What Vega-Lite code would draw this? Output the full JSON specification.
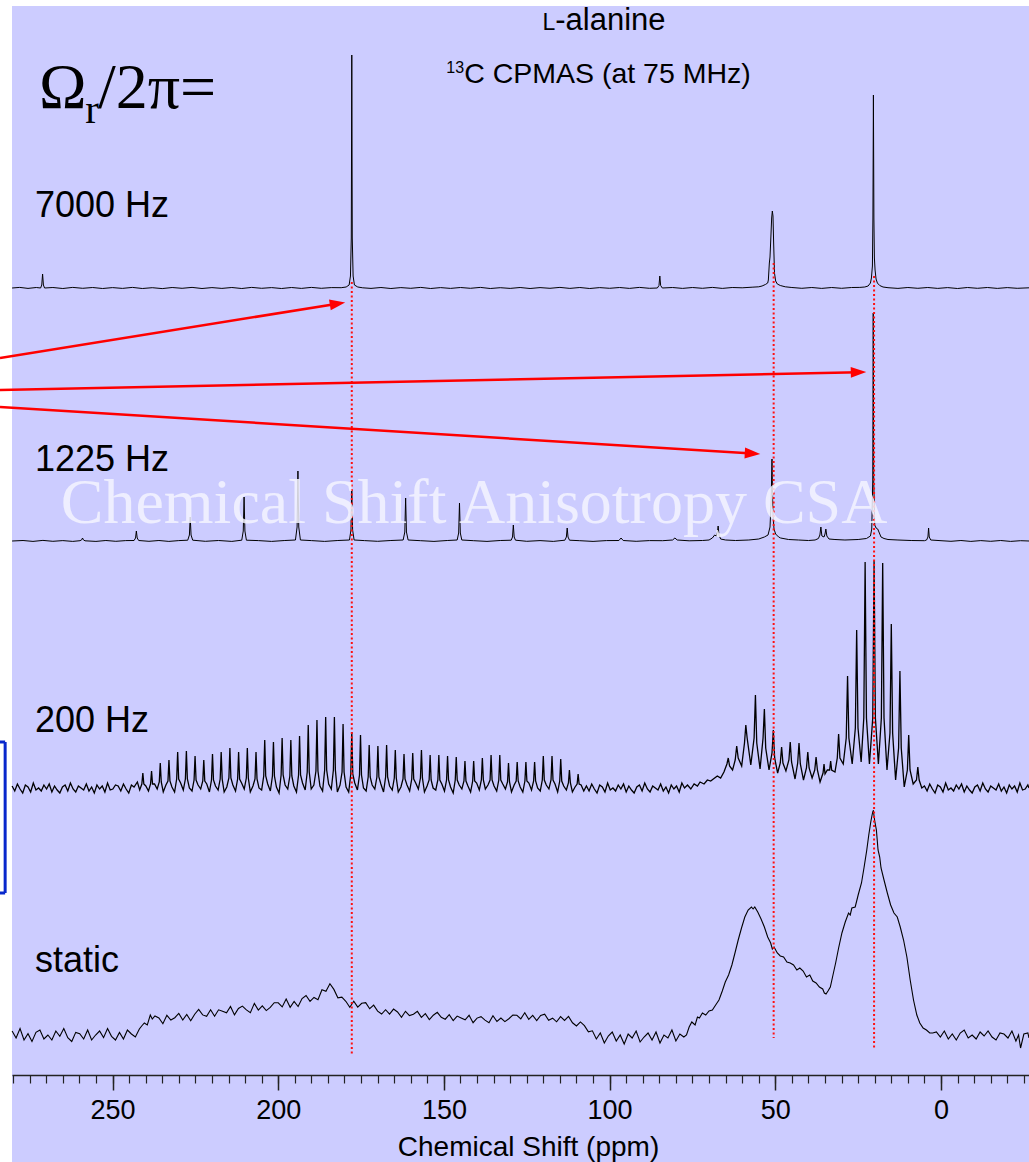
{
"$schema": "https://vega.github.io/schema/vega-lite/v6.json",
"width": 1017,
"height": 1156,
"autosize": {"type": "none"},
"padding": {"left": 12, "top": 6, "right": 0, "bottom": 0},
"background": "white",
"config": {"view": {"fill": "#CCCCFF", "stroke": null}},
"datasets": {
"s7000": [{"p":280.3,"v":0},{"p":278.0,"v":0.6},{"p":275.5,"v":-0.4},{"p":273.0,"v":0.5},{"p":271.7,"v":0},{"p":271.35,"v":3},{"p":271.1,"v":14},{"p":270.85,"v":3},{"p":270.5,"v":0},{"p":268.0,"v":0.5},{"p":265.0,"v":-0.5},{"p":262.0,"v":0.6},{"p":259.0,"v":-0.3},{"p":256.0,"v":0.5},{"p":253.0,"v":-0.5},{"p":250.0,"v":0.4},{"p":247.0,"v":-0.4},{"p":244.0,"v":0.6},{"p":241.0,"v":-0.5},{"p":238.0,"v":0.3},{"p":235.0,"v":-0.6},{"p":232.0,"v":0.5},{"p":229.0,"v":-0.3},{"p":226.0,"v":0.6},{"p":223.0,"v":-0.5},{"p":220.0,"v":0.4},{"p":217.0,"v":-0.4},{"p":214.0,"v":0.5},{"p":211.0,"v":-0.5},{"p":208.0,"v":0.6},{"p":205.0,"v":-0.3},{"p":202.0,"v":0.4},{"p":199.0,"v":-0.5},{"p":196.0,"v":0.5},{"p":193.0,"v":-0.4},{"p":190.0,"v":0.6},{"p":187.0,"v":-0.3},{"p":184.0,"v":0.4},{"p":181.0,"v":0.3},{"p":179.5,"v":1},{"p":178.6,"v":3},{"p":178.2,"v":12},{"p":177.95,"v":50},{"p":177.8,"v":233},{"p":177.65,"v":50},{"p":177.4,"v":12},{"p":177.0,"v":3},{"p":176.0,"v":1},{"p":174.5,"v":0.2},{"p":172.0,"v":-0.4},{"p":169.0,"v":0.5},{"p":166.0,"v":-0.5},{"p":163.0,"v":0.4},{"p":160.0,"v":-0.3},{"p":157.0,"v":0.6},{"p":154.0,"v":-0.5},{"p":151.0,"v":0.4},{"p":148.0,"v":-0.4},{"p":145.0,"v":0.5},{"p":142.0,"v":-0.3},{"p":139.0,"v":0.6},{"p":136.0,"v":-0.5},{"p":133.0,"v":0.3},{"p":130.0,"v":-0.4},{"p":127.0,"v":0.5},{"p":124.0,"v":-0.5},{"p":121.0,"v":0.4},{"p":118.0,"v":-0.3},{"p":115.0,"v":0.6},{"p":112.0,"v":-0.4},{"p":109.0,"v":0.5},{"p":106.0,"v":-0.5},{"p":103.0,"v":0.4},{"p":100.0,"v":-0.3},{"p":97.0,"v":0.5},{"p":94.0,"v":-0.4},{"p":91.0,"v":0.6},{"p":88.0,"v":-0.3},{"p":85.6,"v":0},{"p":85.1,"v":2.5},{"p":84.85,"v":12},{"p":84.6,"v":2.5},{"p":84.1,"v":0},{"p":81.0,"v":0.5},{"p":78.0,"v":-0.4},{"p":75.0,"v":0.5},{"p":72.0,"v":-0.3},{"p":69.0,"v":0.6},{"p":66.0,"v":-0.4},{"p":63.0,"v":0.5},{"p":60.0,"v":0.2},{"p":57.0,"v":0.8},{"p":55.0,"v":1.2},{"p":54.0,"v":2},{"p":53.0,"v":3.5},{"p":52.3,"v":5},{"p":52.1,"v":8},{"p":51.8,"v":25},{"p":51.6,"v":31},{"p":51.35,"v":50},{"p":51.1,"v":70},{"p":50.9,"v":77},{"p":50.7,"v":72},{"p":50.5,"v":45},{"p":50.25,"v":15},{"p":49.9,"v":7},{"p":49.4,"v":4},{"p":48.5,"v":2.5},{"p":47.0,"v":1.2},{"p":45.0,"v":0.5},{"p":42.0,"v":-0.3},{"p":39.0,"v":0.5},{"p":36.0,"v":-0.4},{"p":33.0,"v":0.5},{"p":30.0,"v":-0.3},{"p":27.0,"v":0.5},{"p":24.5,"v":0.6},{"p":23.0,"v":1},{"p":22.0,"v":2},{"p":21.3,"v":5},{"p":21.0,"v":10},{"p":20.7,"v":22},{"p":20.55,"v":70},{"p":20.4,"v":193},{"p":20.25,"v":70},{"p":20.1,"v":30},{"p":19.9,"v":18},{"p":19.6,"v":9},{"p":19.2,"v":5},{"p":18.5,"v":2.5},{"p":17.5,"v":1},{"p":16.0,"v":0.3},{"p":13.0,"v":-0.4},{"p":10.0,"v":0.5},{"p":7.0,"v":-0.3},{"p":4.0,"v":0.5},{"p":1.0,"v":-0.4},{"p":-2.0,"v":0.4},{"p":-5.0,"v":-0.5},{"p":-8.0,"v":0.5},{"p":-11.0,"v":-0.3},{"p":-14.0,"v":0.5},{"p":-17.0,"v":-0.4},{"p":-20.0,"v":0.4},{"p":-23.0,"v":-0.3},{"p":-26.55,"v":0.2}],
"s1225": [{"p":280.3,"v":0},{"p":277,"v":0.5},{"p":274,"v":-0.4},{"p":271,"v":0.6},{"p":268,"v":-0.3},{"p":265,"v":0.4},{"p":262,"v":-0.4},{"p":259.8,"v":0.3},{"p":259.3,"v":1.2},{"p":259.05,"v":3},{"p":258.8,"v":1.2},{"p":258.3,"v":0.2},{"p":255,"v":-0.4},{"p":252,"v":0.5},{"p":249,"v":-0.3},{"p":246,"v":0.4},{"p":243.5,"v":0.5},{"p":243.05,"v":3},{"p":242.8,"v":10},{"p":242.55,"v":3},{"p":242.1,"v":0.5},{"p":239,"v":-0.3},{"p":236,"v":0.5},{"p":233,"v":-0.4},{"p":230,"v":0.4},{"p":227.3,"v":0.8},{"p":226.8,"v":6},{"p":226.55,"v":24},{"p":226.3,"v":6},{"p":225.8,"v":0.8},{"p":222,"v":-0.3},{"p":218,"v":0.5},{"p":214,"v":-0.4},{"p":211,"v":0.8},{"p":210.55,"v":10},{"p":210.3,"v":44},{"p":210.05,"v":10},{"p":209.6,"v":0.8},{"p":206,"v":0.4},{"p":202,"v":-0.4},{"p":198,"v":0.5},{"p":194.8,"v":1},{"p":194.3,"v":14},{"p":194.05,"v":70},{"p":193.8,"v":14},{"p":193.3,"v":1},{"p":190,"v":0.4},{"p":186,"v":-0.4},{"p":182,"v":0.5},{"p":178.5,"v":1},{"p":178.05,"v":11},{"p":177.8,"v":51},{"p":177.55,"v":11},{"p":177.1,"v":1},{"p":174,"v":0.4},{"p":170,"v":-0.3},{"p":166,"v":0.5},{"p":162.3,"v":1},{"p":161.8,"v":9},{"p":161.55,"v":43},{"p":161.3,"v":9},{"p":160.8,"v":1},{"p":157,"v":0.3},{"p":153,"v":-0.4},{"p":149,"v":0.5},{"p":146,"v":1},{"p":145.55,"v":8},{"p":145.3,"v":38},{"p":145.05,"v":8},{"p":144.6,"v":1},{"p":141,"v":0.3},{"p":137,"v":-0.4},{"p":133,"v":0.5},{"p":129.7,"v":0.8},{"p":129.3,"v":4},{"p":129.05,"v":16},{"p":128.8,"v":4},{"p":128.4,"v":0.8},{"p":125,"v":-0.3},{"p":121,"v":0.4},{"p":117,"v":-0.4},{"p":113.5,"v":0.8},{"p":113.05,"v":4},{"p":112.8,"v":13},{"p":112.55,"v":4},{"p":112.1,"v":0.8},{"p":109,"v":0.3},{"p":105,"v":-0.4},{"p":101,"v":0.4},{"p":97.2,"v":0.5},{"p":96.55,"v":3},{"p":95.9,"v":0.5},{"p":92,"v":-0.3},{"p":88,"v":0.4},{"p":84,"v":0.3},{"p":81,"v":1},{"p":80.3,"v":3},{"p":79.6,"v":1},{"p":76,"v":0.2},{"p":72,"v":0.5},{"p":70,"v":1},{"p":69,"v":3},{"p":68.3,"v":6},{"p":67.8,"v":5},{"p":67.45,"v":9},{"p":67.25,"v":15},{"p":67.0,"v":6},{"p":66.5,"v":2},{"p":65,"v":1},{"p":62,"v":0.5},{"p":58,"v":1},{"p":55,"v":2},{"p":53.3,"v":4},{"p":52.2,"v":6},{"p":51.6,"v":14},{"p":51.25,"v":40},{"p":51.0,"v":82},{"p":50.75,"v":30},{"p":50.4,"v":12},{"p":49.9,"v":7},{"p":49.0,"v":4},{"p":48.4,"v":3},{"p":46,"v":1.5},{"p":43,"v":1},{"p":40,"v":0.5},{"p":38,"v":1},{"p":37,"v":2.5},{"p":36.55,"v":6},{"p":36.25,"v":14},{"p":35.95,"v":5},{"p":35.3,"v":4},{"p":35.0,"v":7},{"p":34.75,"v":12},{"p":34.45,"v":5},{"p":33.8,"v":2},{"p":32,"v":1.5},{"p":29,"v":1},{"p":25,"v":1.5},{"p":22.5,"v":2.5},{"p":21.3,"v":5},{"p":20.9,"v":12},{"p":20.6,"v":60},{"p":20.45,"v":228},{"p":20.3,"v":60},{"p":20.0,"v":16},{"p":19.6,"v":13},{"p":19.1,"v":12},{"p":18.1,"v":4},{"p":17.2,"v":2.5},{"p":16,"v":1.5},{"p":13,"v":1},{"p":9,"v":0.5},{"p":5,"v":0.3},{"p":4.35,"v":1},{"p":3.95,"v":4},{"p":3.75,"v":13},{"p":3.55,"v":4},{"p":3.1,"v":1},{"p":0,"v":0.3},{"p":-3,"v":-0.3},{"p":-6,"v":0.5},{"p":-9,"v":-0.4},{"p":-12,"v":0.4},{"p":-15,"v":-0.3},{"p":-18,"v":0.5},{"p":-21,"v":-0.4},{"p":-24,"v":0.3},{"p":-26.55,"v":0}],
"s200": [{"p":280.3,"v":2},{"p":279.5,"v":-3},{"p":278.7,"v":4},{"p":277.9,"v":-1},{"p":277.1,"v":-5},{"p":276.3,"v":3},{"p":275.5,"v":1},{"p":274.7,"v":-4},{"p":273.9,"v":5},{"p":273.1,"v":-2},{"p":272.3,"v":0},{"p":271.5,"v":-3},{"p":270.7,"v":3},{"p":269.9,"v":-1},{"p":269.1,"v":4},{"p":268.3,"v":-4},{"p":267.5,"v":2},{"p":266.7,"v":-2},{"p":265.9,"v":-5},{"p":265.1,"v":1},{"p":264.3,"v":3},{"p":263.5,"v":-3},{"p":262.7,"v":5},{"p":261.9,"v":-1},{"p":261.1,"v":-4},{"p":260.3,"v":2},{"p":259.5,"v":0},{"p":258.7,"v":-2},{"p":257.9,"v":4},{"p":257.1,"v":-3},{"p":256.3,"v":1},{"p":255.5,"v":-5},{"p":254.7,"v":3},{"p":253.9,"v":-1},{"p":253.1,"v":2},{"p":252.3,"v":-4},{"p":251.5,"v":5},{"p":250.7,"v":-2},{"p":249.9,"v":-1},{"p":249.1,"v":3},{"p":248.3,"v":2},{"p":247.5,"v":-3},{"p":246.7,"v":4},{"p":245.9,"v":-1},{"p":245.1,"v":-5},{"p":244.3,"v":3},{"p":243.5,"v":1},{"p":242.5,"v":6},{"p":241.8,"v":-2},
{"p":241.15,"v":4},{"p":240.85,"v":15},{"p":240.55,"v":4},{"p":239.95,"v":2},{"p":239.15,"v":-3},
{"p":238.52,"v":4},{"p":238.22,"v":17},{"p":237.92,"v":4},{"p":237.32,"v":4},{"p":236.52,"v":-1},
{"p":235.89,"v":6},{"p":235.59,"v":25},{"p":235.29,"v":6},{"p":234.69,"v":-4},{"p":233.89,"v":3},
{"p":233.27,"v":7},{"p":232.97,"v":28},{"p":232.67,"v":7},{"p":232.07,"v":1},{"p":231.27,"v":-4},
{"p":230.64,"v":9},{"p":230.34,"v":36},{"p":230.04,"v":9},{"p":229.44,"v":5},{"p":228.64,"v":-2},
{"p":228.01,"v":9},{"p":227.71,"v":37},{"p":227.41,"v":9},{"p":226.81,"v":0},{"p":226.01,"v":-3},
{"p":225.39,"v":8},{"p":225.09,"v":32},{"p":224.79,"v":8},{"p":224.19,"v":3},{"p":223.39,"v":-1},
{"p":222.76,"v":7},{"p":222.46,"v":28},{"p":222.16,"v":7},{"p":221.56,"v":4},{"p":220.76,"v":-4},
{"p":220.13,"v":8},{"p":219.83,"v":34},{"p":219.53,"v":8},{"p":218.93,"v":2},{"p":218.13,"v":-2},
{"p":217.51,"v":9},{"p":217.21,"v":36},{"p":216.91,"v":9},{"p":216.31,"v":-4},{"p":215.51,"v":1},
{"p":214.88,"v":10},{"p":214.58,"v":40},{"p":214.28,"v":10},{"p":213.68,"v":3},{"p":212.88,"v":-3},
{"p":212.25,"v":9},{"p":211.95,"v":36},{"p":211.65,"v":9},{"p":211.05,"v":5},{"p":210.25,"v":-1},
{"p":209.62,"v":10},{"p":209.32,"v":40},{"p":209.02,"v":10},{"p":208.42,"v":-4},{"p":207.62,"v":2},
{"p":207.0,"v":9},{"p":206.7,"v":36},{"p":206.4,"v":9},{"p":205.8,"v":0},{"p":205.0,"v":-2},
{"p":204.37,"v":12},{"p":204.07,"v":48},{"p":203.77,"v":12},{"p":203.17,"v":4},{"p":202.37,"v":-3},
{"p":201.74,"v":12},{"p":201.44,"v":46},{"p":201.14,"v":12},{"p":200.54,"v":1},{"p":199.74,"v":-5},
{"p":199.12,"v":13},{"p":198.82,"v":50},{"p":198.52,"v":13},{"p":197.92,"v":3},{"p":197.12,"v":-1},
{"p":196.49,"v":12},{"p":196.19,"v":48},{"p":195.89,"v":12},{"p":195.29,"v":2},{"p":194.49,"v":-4},
{"p":193.86,"v":13},{"p":193.56,"v":52},{"p":193.26,"v":13},{"p":192.66,"v":5},{"p":191.86,"v":-2},
{"p":191.24,"v":16},{"p":190.94,"v":63},{"p":190.64,"v":16},{"p":190.04,"v":-1},{"p":189.24,"v":3},
{"p":188.61,"v":17},{"p":188.31,"v":68},{"p":188.01,"v":17},{"p":187.41,"v":2},{"p":186.61,"v":-3},
{"p":185.98,"v":18},{"p":185.68,"v":71},{"p":185.38,"v":18},{"p":184.78,"v":4},{"p":183.98,"v":-1},
{"p":183.35,"v":18},{"p":183.05,"v":71},{"p":182.75,"v":18},{"p":182.15,"v":-4},{"p":181.35,"v":3},
{"p":180.73,"v":16},{"p":180.43,"v":64},{"p":180.13,"v":16},{"p":179.53,"v":1},{"p":178.73,"v":-4},
{"p":178.1,"v":14},{"p":177.8,"v":56},{"p":177.5,"v":14},{"p":176.9,"v":5},{"p":176.1,"v":-2},
{"p":175.47,"v":13},{"p":175.17,"v":53},{"p":174.87,"v":13},{"p":174.27,"v":0},{"p":173.47,"v":-3},
{"p":172.85,"v":11},{"p":172.55,"v":43},{"p":172.25,"v":11},{"p":171.65,"v":3},{"p":170.85,"v":-1},
{"p":170.22,"v":11},{"p":169.92,"v":42},{"p":169.62,"v":11},{"p":169.02,"v":4},{"p":168.22,"v":-4},
{"p":167.59,"v":11},{"p":167.29,"v":43},{"p":166.99,"v":11},{"p":166.39,"v":2},{"p":165.59,"v":-2},
{"p":164.97,"v":10},{"p":164.67,"v":38},{"p":164.37,"v":10},{"p":163.77,"v":-4},{"p":162.97,"v":1},
{"p":162.34,"v":9},{"p":162.04,"v":34},{"p":161.74,"v":9},{"p":161.14,"v":3},{"p":160.34,"v":-3},
{"p":159.71,"v":9},{"p":159.41,"v":35},{"p":159.11,"v":9},{"p":158.51,"v":5},{"p":157.71,"v":-1},
{"p":157.08,"v":10},{"p":156.78,"v":38},{"p":156.48,"v":10},{"p":155.88,"v":-4},{"p":155.08,"v":2},
{"p":154.46,"v":8},{"p":154.16,"v":33},{"p":153.86,"v":8},{"p":153.26,"v":0},{"p":152.46,"v":-2},
{"p":151.83,"v":8},{"p":151.53,"v":33},{"p":151.23,"v":8},{"p":150.63,"v":4},{"p":149.83,"v":-3},
{"p":149.2,"v":8},{"p":148.9,"v":32},{"p":148.6,"v":8},{"p":148.0,"v":1},{"p":147.2,"v":-5},
{"p":146.58,"v":8},{"p":146.28,"v":31},{"p":145.98,"v":8},{"p":145.38,"v":3},{"p":144.58,"v":-1},
{"p":143.95,"v":7},{"p":143.65,"v":27},{"p":143.35,"v":7},{"p":142.75,"v":2},{"p":141.95,"v":-4},
{"p":141.32,"v":7},{"p":141.02,"v":27},{"p":140.72,"v":7},{"p":140.12,"v":5},{"p":139.32,"v":-2},
{"p":138.7,"v":8},{"p":138.4,"v":30},{"p":138.1,"v":8},{"p":137.5,"v":-1},{"p":136.7,"v":3},
{"p":136.07,"v":8},{"p":135.77,"v":33},{"p":135.47,"v":8},{"p":134.87,"v":2},{"p":134.07,"v":-3},
{"p":133.44,"v":8},{"p":133.14,"v":33},{"p":132.84,"v":8},{"p":132.24,"v":4},{"p":131.44,"v":-1},
{"p":130.81,"v":6},{"p":130.51,"v":25},{"p":130.21,"v":6},{"p":129.61,"v":-4},{"p":128.81,"v":3},
{"p":128.19,"v":7},{"p":127.89,"v":26},{"p":127.59,"v":7},{"p":126.99,"v":1},{"p":126.19,"v":-4},
{"p":125.56,"v":7},{"p":125.26,"v":26},{"p":124.96,"v":7},{"p":124.36,"v":5},{"p":123.56,"v":-2},
{"p":122.93,"v":7},{"p":122.63,"v":26},{"p":122.33,"v":7},{"p":121.73,"v":0},{"p":120.93,"v":-3},
{"p":120.31,"v":8},{"p":120.01,"v":32},{"p":119.71,"v":8},{"p":119.11,"v":3},{"p":118.31,"v":-1},
{"p":117.68,"v":8},{"p":117.38,"v":32},{"p":117.08,"v":8},{"p":116.48,"v":4},{"p":115.68,"v":-4},
{"p":115.05,"v":7},{"p":114.75,"v":29},{"p":114.45,"v":7},{"p":113.85,"v":2},{"p":113.05,"v":-2},
{"p":112.43,"v":5},{"p":112.13,"v":18},{"p":111.83,"v":5},{"p":111.23,"v":-4},{"p":110.43,"v":1},
{"p":109.8,"v":4},{"p":109.5,"v":14},{"p":109.2,"v":4},{"p":108.6,"v":3},{"p":107.8,"v":-3},
{"p":107.0,"v":2},{"p":106.2,"v":-3},{"p":105.4,"v":4},{"p":104.6,"v":-1},{"p":103.8,"v":-5},{"p":103.0,"v":3},{"p":102.2,"v":1},{"p":101.4,"v":-4},{"p":100.6,"v":5},{"p":99.8,"v":-2},{"p":99.0,"v":0},{"p":98.2,"v":-3},{"p":97.4,"v":3},{"p":96.6,"v":-1},{"p":95.8,"v":4},{"p":95.0,"v":-4},{"p":94.2,"v":2},{"p":93.4,"v":-2},{"p":92.6,"v":-5},{"p":91.8,"v":1},{"p":91.0,"v":3},{"p":90.2,"v":-3},{"p":89.4,"v":5},{"p":88.6,"v":-1},{"p":87.8,"v":-4},{"p":87.0,"v":2},{"p":86.2,"v":0},{"p":85.4,"v":-2},{"p":84.6,"v":4},{"p":83.8,"v":-3},{"p":83.0,"v":1},{"p":82.2,"v":-5},{"p":81.4,"v":3},{"p":80.6,"v":-1},{"p":79.8,"v":2},{"p":79.0,"v":-4},{"p":78.2,"v":5},
{"p":77.4,"v":0},{"p":76.5,"v":3},{"p":75.5,"v":-1},{"p":74.5,"v":4},{"p":73.5,"v":2},{"p":72.7,"v":6},{"p":71.5,"v":4},{"p":70.5,"v":8},{"p":69.5,"v":7},{"p":68.7,"v":9},{"p":67.5,"v":12},{"p":66.5,"v":10},{"p":65.5,"v":16},{"p":64.6,"v":24},{"p":64.2,"v":30},{"p":63.8,"v":22},{"p":62.9,"v":18},{"p":62.1,"v":28},{"p":61.65,"v":42},{"p":61.2,"v":30},{"p":60.15,"v":22},{"p":59.3,"v":45},{"p":58.9,"v":63},{"p":58.5,"v":50},{"p":57.4,"v":23},{"p":56.4,"v":50},{"p":56.0,"v":93},{"p":55.6,"v":45},{"p":54.6,"v":19},{"p":53.7,"v":50},{"p":53.3,"v":79},{"p":52.9,"v":40},{"p":51.9,"v":18},{"p":51.0,"v":35},{"p":50.6,"v":58},{"p":50.2,"v":30},{"p":49.3,"v":15},{"p":48.5,"v":25},{"p":48.1,"v":41},{"p":47.7,"v":25},{"p":46.8,"v":17},{"p":45.9,"v":28},{"p":45.5,"v":46},{"p":45.1,"v":26},{"p":44.05,"v":9},{"p":43.25,"v":25},{"p":42.85,"v":45},{"p":42.45,"v":24},{"p":41.5,"v":8},{"p":40.6,"v":20},{"p":40.2,"v":36},{"p":39.8,"v":20},{"p":38.9,"v":10},{"p":38.1,"v":18},{"p":37.7,"v":31},{"p":37.3,"v":18},{"p":36.5,"v":6},{"p":35.6,"v":15},{"p":35.3,"v":24},{"p":35.0,"v":14},{"p":34.3,"v":18},{"p":33.6,"v":18},{"p":33.3,"v":27},{"p":33.0,"v":18},{"p":32.0,"v":16},{"p":31.3,"v":30},{"p":30.9,"v":54},{"p":30.5,"v":30},{"p":29.5,"v":24},{"p":28.6,"v":50},{"p":28.2,"v":112},{"p":27.8,"v":50},{"p":26.8,"v":24},{"p":25.85,"v":60},{"p":25.45,"v":158},{"p":25.05,"v":60},{"p":24.1,"v":26},{"p":23.3,"v":70},{"p":22.9,"v":226},{"p":22.5,"v":70},{"p":21.6,"v":24},{"p":20.6,"v":70},{"p":20.2,"v":227},{"p":19.8,"v":70},{"p":18.9,"v":24},{"p":18.0,"v":70},{"p":17.6,"v":225},{"p":17.2,"v":70},{"p":16.3,"v":18},{"p":15.4,"v":55},{"p":15.0,"v":164},{"p":14.6,"v":55},{"p":13.7,"v":8},{"p":12.8,"v":40},{"p":12.4,"v":117},{"p":12.0,"v":40},{"p":11.1,"v":1},{"p":10.15,"v":18},{"p":9.75,"v":53},{"p":9.35,"v":18},{"p":8.4,"v":4},{"p":7.4,"v":8},{"p":7.0,"v":21},{"p":6.6,"v":8},{"p":5.8,"v":0},
{"p":5.0,"v":2},{"p":4.2,"v":-3},{"p":3.4,"v":4},{"p":2.6,"v":-1},{"p":1.8,"v":-5},{"p":1.0,"v":3},{"p":0.2,"v":1},{"p":-0.6,"v":-4},{"p":-1.4,"v":5},{"p":-2.2,"v":-2},{"p":-3.0,"v":0},{"p":-3.8,"v":-3},{"p":-4.6,"v":3},{"p":-5.4,"v":-1},{"p":-6.2,"v":4},{"p":-7.0,"v":-4},{"p":-7.8,"v":2},{"p":-8.6,"v":-2},{"p":-9.4,"v":-5},{"p":-10.2,"v":1},{"p":-11.0,"v":3},{"p":-11.8,"v":-3},{"p":-12.6,"v":5},{"p":-13.4,"v":-1},{"p":-14.2,"v":-4},{"p":-15.0,"v":2},{"p":-15.8,"v":0},{"p":-16.6,"v":-2},{"p":-17.4,"v":4},{"p":-18.2,"v":-3},{"p":-19.0,"v":1},{"p":-19.8,"v":-5},{"p":-20.6,"v":3},{"p":-21.4,"v":-1},{"p":-22.2,"v":2},{"p":-23.0,"v":-4},{"p":-23.8,"v":5},{"p":-24.6,"v":-2},{"p":-25.4,"v":-1},{"p":-26.2,"v":3},{"p":-26.55,"v":0}],
"sstatic": [{"p":280.3,"v":4},{"p":279.1,"v":-3},{"p":277.9,"v":6.5},{"p":276.7,"v":-5},{"p":275.5,"v":1.3},{"p":274.3,"v":-6.5},{"p":273.1,"v":2.6},{"p":271.9,"v":5},{"p":270.7,"v":-4},{"p":269.5,"v":0},{"p":268.3,"v":-5},{"p":267.1,"v":4},{"p":265.9,"v":-1.3},{"p":264.7,"v":6.5},{"p":263.5,"v":-2.6},{"p":262.3,"v":-6.5},{"p":261.1,"v":2.6},{"p":259.9,"v":1.3},{"p":258.7,"v":-4},{"p":257.5,"v":5},{"p":256.3,"v":-5},{"p":255.1,"v":0},{"p":253.9,"v":4},{"p":252.7,"v":-2.6},{"p":251.5,"v":6.5},{"p":250.3,"v":-1.3},{"p":249.1,"v":-5},{"p":247.9,"v":2.6},{"p":246.7,"v":-4},{"p":245.5,"v":5},
{"p":244.3,"v":1},{"p":243.1,"v":-2},{"p":241.9,"v":6},{"p":241.2,"v":9},{"p":240.4,"v":12},{"p":239.5,"v":10},{"p":238.6,"v":20},{"p":238.0,"v":16},{"p":237.2,"v":19},
{"p":236.0,"v":17},{"p":234.8,"v":11.3},{"p":233.6,"v":19.7},{"p":232.4,"v":15},{"p":231.2,"v":17.3},{"p":230.0,"v":21.6},{"p":228.8,"v":15},{"p":227.6,"v":20.6},{"p":226.4,"v":14.2},{"p":225.2,"v":20.8},{"p":224.0,"v":25.5},{"p":222.8,"v":20.1},{"p":221.6,"v":18.7},{"p":220.4,"v":25.2},{"p":219.2,"v":18.8},{"p":218.0,"v":25.2},{"p":216.8,"v":23.7},{"p":215.6,"v":22.2},{"p":214.4,"v":28.6},{"p":213.2,"v":20.1},{"p":212.0,"v":26.6},{"p":210.8,"v":28.9},{"p":209.6,"v":25.1},{"p":208.4,"v":22.4},{"p":207.2,"v":31.6},{"p":206.0,"v":24.9},{"p":204.8,"v":29.1},{"p":203.6,"v":24.4},{"p":202.4,"v":27.6},{"p":201.2,"v":32.3},{"p":200.0,"v":32.2},{"p":198.8,"v":28.1},{"p":197.6,"v":35.9},{"p":196.4,"v":27.7},{"p":195.2,"v":33.6},{"p":194.0,"v":28.5},{"p":192.8,"v":36.5},{"p":191.6,"v":39.5},{"p":190.4,"v":33.6},{"p":189.2,"v":37.6},{"p":188.0,"v":35.3},{"p":186.8,"v":45.3},{"p":185.6,"v":43.8},{"p":184.4,"v":51.2},{"p":183.2,"v":45.6},
{"p":182.0,"v":37.2},{"p":180.8,"v":37.9},{"p":179.6,"v":33.7},{"p":178.4,"v":27.7},{"p":177.2,"v":33.8},{"p":176.0,"v":27.9},{"p":174.8,"v":31.7},{"p":173.6,"v":32.3},{"p":172.4,"v":26.3},{"p":171.2,"v":29.8},{"p":170.0,"v":23.9},{"p":168.8,"v":21},{"p":167.6,"v":25.3},{"p":166.4,"v":20.8},{"p":165.2,"v":25.9},{"p":164.0,"v":23},{"p":162.8,"v":17.7},{"p":161.6,"v":23.7},{"p":160.4,"v":19.4},{"p":159.2,"v":20.7},{"p":158.0,"v":23.6},{"p":156.8,"v":17.6},{"p":155.6,"v":21.3},{"p":154.4,"v":15.4},{"p":153.2,"v":19.8},{"p":152.0,"v":22.7},{"p":150.8,"v":17.7},{"p":149.6,"v":15.8},{"p":148.4,"v":20.3},{"p":147.2,"v":14.4},{"p":146.0,"v":18.9},{"p":144.8,"v":17},{"p":143.6,"v":15.2},{"p":142.4,"v":19.7},{"p":141.2,"v":12.3},{"p":140.0,"v":16.9},{"p":138.8,"v":18.3},{"p":137.6,"v":14.9},{"p":136.4,"v":12.3},{"p":135.2,"v":19.3},{"p":134.0,"v":13.5},{"p":132.8,"v":16.9},{"p":131.6,"v":13.4},{"p":130.4,"v":16.3},{"p":129.2,"v":20},{"p":128.0,"v":19.7},{"p":126.8,"v":16.2},{"p":125.6,"v":22.3},{"p":124.4,"v":15.6},{"p":123.2,"v":19.6},{"p":122.0,"v":14.4},{"p":120.8,"v":19.6},{"p":119.6,"v":20.8},{"p":118.4,"v":14.8},{"p":117.2,"v":16.8},{"p":116.0,"v":13.2},{"p":114.8,"v":18.4},{"p":113.6,"v":14.6},{"p":112.4,"v":18.6},{"p":111.2,"v":12.2},{"p":110.0,"v":9},{"p":108.8,"v":13.1},{"p":107.6,"v":9.3},{"p":106.4,"v":3.1},{"p":105.2,"v":4.2},
{"p":104.0,"v":-4},{"p":102.8,"v":2},{"p":101.6,"v":-8},{"p":100.4,"v":-1},{"p":99.2,"v":3},{"p":98.0,"v":-6},{"p":96.8,"v":0},{"p":95.6,"v":-9},{"p":94.4,"v":1},{"p":93.2,"v":-3},{"p":92.0,"v":4},{"p":90.8,"v":-7},{"p":89.6,"v":-2},{"p":88.4,"v":2},{"p":87.2,"v":-5},{"p":86.0,"v":3},{"p":84.8,"v":-8},{"p":83.6,"v":0},{"p":82.4,"v":-3},{"p":81.2,"v":5},{"p":80.0,"v":-6},{"p":78.8,"v":1},{"p":77.6,"v":-2},
{"p":76.8,"v":0},{"p":76.0,"v":8},{"p":75.2,"v":13},{"p":74.2,"v":10},{"p":73.5,"v":18},{"p":72.9,"v":17},{"p":72.0,"v":22},{"p":71.0,"v":20},{"p":70.0,"v":24},{"p":69.0,"v":25},{"p":68.0,"v":30},{"p":67.0,"v":35},{"p":66.0,"v":44},{"p":65.1,"v":53},{"p":64.1,"v":60},{"p":63.1,"v":70},{"p":62.1,"v":83},{"p":61.2,"v":95},{"p":60.2,"v":107},{"p":59.2,"v":118},{"p":58.2,"v":125},{"p":57.2,"v":128},{"p":56.7,"v":126},{"p":56.2,"v":128},{"p":55.3,"v":123},{"p":54.3,"v":116},{"p":53.3,"v":108},{"p":52.3,"v":98},{"p":51.4,"v":92},{"p":50.9,"v":86},{"p":50.4,"v":88},{"p":49.4,"v":82},{"p":48.5,"v":79},{"p":47.5,"v":78},{"p":46.5,"v":73},{"p":45.5,"v":72},{"p":44.5,"v":70},{"p":43.5,"v":65},{"p":42.6,"v":67},{"p":41.6,"v":64},{"p":40.6,"v":58},{"p":39.6,"v":60},{"p":38.7,"v":54},{"p":37.7,"v":52},{"p":36.7,"v":48},{"p":35.7,"v":46},{"p":35.2,"v":42},{"p":34.7,"v":41},{"p":34.1,"v":44},{"p":33.4,"v":48},{"p":32.6,"v":60},{"p":31.8,"v":72},{"p":30.9,"v":87},{"p":29.9,"v":102},{"p":28.9,"v":113},{"p":27.9,"v":122},{"p":27.4,"v":120},{"p":26.9,"v":127},{"p":25.9,"v":128},{"p":25.0,"v":140},{"p":24.0,"v":152},{"p":23.2,"v":168},{"p":22.4,"v":185},{"p":21.8,"v":200},{"p":21.2,"v":213},{"p":20.8,"v":220},{"p":20.45,"v":225},{"p":20.0,"v":214},{"p":19.5,"v":205},{"p":19.0,"v":185},{"p":18.5,"v":178},{"p":18.1,"v":167},{"p":17.2,"v":155},{"p":16.2,"v":142},{"p":15.2,"v":130},{"p":14.2,"v":122},{"p":13.2,"v":118},{"p":12.3,"v":108},{"p":11.3,"v":95},{"p":10.3,"v":78},{"p":9.3,"v":55},{"p":8.3,"v":35},{"p":7.3,"v":20},{"p":6.4,"v":12},{"p":5.4,"v":7},{"p":4.4,"v":5},{"p":3.4,"v":2},{"p":2.5,"v":2},
{"p":1.4,"v":3},{"p":0.2,"v":-2},{"p":-1.0,"v":4},{"p":-2.2,"v":-4},{"p":-3.4,"v":1},{"p":-4.6,"v":-5},{"p":-5.8,"v":2},{"p":-7.0,"v":5},{"p":-8.2,"v":-3},{"p":-9.4,"v":0},{"p":-10.6,"v":-4},{"p":-11.8,"v":3},{"p":-13.0,"v":-1},{"p":-14.2,"v":4},{"p":-15.4,"v":-2},{"p":-16.6,"v":-5},{"p":-17.8,"v":2},{"p":-19.0,"v":1},{"p":-20.2,"v":-3},{"p":-21.4,"v":4},{"p":-22.6,"v":-6},{"p":-23.4,"v":0},{"p":-24.0,"v":-13},{"p":-25.0,"v":1},{"p":-26.2,"v":2},{"p":-26.55,"v":-3}]
},
"layer": [
{"data": {"name": "s7000"}, "mark": {"type": "line", "color": "black", "strokeWidth": 1},
 "encoding": {
  "x": {"field": "p", "type": "quantitative", "scale": {"domain": [-26.55, 280.33], "reverse": true, "nice": false, "zero": false},
   "axis": {"orient": "bottom", "offset": -87, "values": [250, 200, 150, 100, 50, 0], "tickSize": 15, "tickWidth": 1.5, "tickColor": "#222222", "domainColor": "#222222", "domainWidth": 1.5, "grid": false, "labelFont": "Liberation Sans", "labelFontSize": 27, "labelColor": "black", "labelPadding": 7, "labelFlush": false, "title": "Chemical Shift (ppm)", "titleFont": "Liberation Sans", "titleFontSize": 28, "titleFontWeight": "normal", "titleColor": "black", "titlePadding": 10, "titleX": 516}},
  "y": {"field": "v", "type": "quantitative", "scale": {"domain": [-874, 282], "nice": false, "zero": false}, "axis": null}}},
{"data": {"name": "s1225"}, "mark": {"type": "line", "color": "black", "strokeWidth": 1},
 "encoding": {
  "x": {"field": "p", "type": "quantitative", "scale": {"domain": [-26.55, 280.33], "reverse": true, "nice": false, "zero": false},
   "axis": {"orient": "bottom", "offset": -87, "values": [280,275,270,265,260,255,250,245,240,235,230,225,220,215,210,205,200,195,190,185,180,175,170,165,160,155,150,145,140,135,130,125,120,115,110,105,100,95,90,85,80,75,70,65,60,55,50,45,40,35,30,25,20,15,10,5,0,-5,-10,-15,-20,-25], "tickSize": 8, "tickWidth": 1.2, "tickColor": "#222222", "labels": false, "domain": false, "grid": false, "title": null}},
  "y": {"field": "v", "type": "quantitative", "scale": {"domain": [-621, 535], "nice": false, "zero": false}, "axis": null}}},
{"data": {"name": "s200"}, "mark": {"type": "line", "color": "black", "strokeWidth": 1.3},
 "encoding": {
  "x": {"field": "p", "type": "quantitative", "scale": {"domain": [-26.55, 280.33], "reverse": true, "nice": false, "zero": false}, "axis": null},
  "y": {"field": "v", "type": "quantitative", "scale": {"domain": [-374, 782], "nice": false, "zero": false}, "axis": null}}},
{"data": {"name": "sstatic"}, "mark": {"type": "line", "color": "black", "strokeWidth": 1.1},
 "encoding": {
  "x": {"field": "p", "type": "quantitative", "scale": {"domain": [-26.55, 280.33], "reverse": true, "nice": false, "zero": false}, "axis": null},
  "y": {"field": "v", "type": "quantitative", "scale": {"domain": [-127, 1029], "nice": false, "zero": false}, "axis": null}}},
{"data": {"values": [{"p": 177.8, "y": 880, "y2": 107}, {"p": 50.5, "y": 899, "y2": 124}, {"p": 20.2, "y": 886, "y2": 112}]},
 "mark": {"type": "rule", "color": "#FF1010", "strokeWidth": 2, "strokeDash": [2, 2.5]},
 "encoding": {
  "x": {"field": "p", "type": "quantitative", "scale": {"domain": [-26.55, 280.33], "reverse": true, "nice": false, "zero": false}, "axis": null},
  "y": {"field": "y", "type": "quantitative", "scale": {"domain": [0, 1156], "nice": false, "zero": false}, "axis": null},
  "y2": {"field": "y2"}}},
{"data": {"values": [{"p": 283.95, "y": 804, "p2": 182.1, "y2": 858.3}, {"p": 283.95, "y": 772, "p2": 24.89, "y2": 789.8}, {"p": 283.95, "y": 755, "p2": 56.88, "y2": 708.5}]},
 "mark": {"type": "rule", "color": "#FF0000", "strokeWidth": 2.5},
 "encoding": {
  "x": {"field": "p", "type": "quantitative", "scale": {"domain": [-26.55, 280.33], "reverse": true, "nice": false, "zero": false}, "axis": null},
  "x2": {"field": "p2"},
  "y": {"field": "y", "type": "quantitative", "scale": {"domain": [0, 1156], "nice": false, "zero": false}, "axis": null},
  "y2": {"field": "y2"}}},
{"data": {"values": [{"p": 182.1, "y": 858.3, "a": 350.86}, {"p": 24.89, "y": 789.8, "a": 358.81}, {"p": 56.88, "y": 708.5, "a": 3.54}]},
 "mark": {"type": "point", "shape": "M1,0L-1,-0.7L-1,0.7Z", "filled": true, "color": "#FF0000", "opacity": 1, "size": 240},
 "encoding": {
  "x": {"field": "p", "type": "quantitative", "scale": {"domain": [-26.55, 280.33], "reverse": true, "nice": false, "zero": false}, "axis": null},
  "y": {"field": "y", "type": "quantitative", "scale": {"domain": [0, 1156], "nice": false, "zero": false}, "axis": null},
  "angle": {"field": "a", "type": "quantitative", "scale": {"domain": [0, 360], "range": [0, 360]}, "legend": null}}},
{"data": {"values": [{"p": 283.95, "y": 420, "p2": 282.4, "y2": 420}, {"p": 282.4, "y": 420, "p2": 282.4, "y2": 269}, {"p": 282.4, "y": 269, "p2": 283.95, "y2": 269}]},
 "mark": {"type": "rule", "color": "#0828CC", "strokeWidth": 3},
 "encoding": {
  "x": {"field": "p", "type": "quantitative", "scale": {"domain": [-26.55, 280.33], "reverse": true, "nice": false, "zero": false}, "axis": null},
  "x2": {"field": "p2"},
  "y": {"field": "y", "type": "quantitative", "scale": {"domain": [0, 1156], "nice": false, "zero": false}, "axis": null},
  "y2": {"field": "y2"}}},
{"data": {"values": [{"p": 273.4, "y": 945, "t": "7000 Hz"}, {"p": 273.4, "y": 691, "t": "1225 Hz"}, {"p": 273.4, "y": 430, "t": "200 Hz"}, {"p": 273.4, "y": 190, "t": "static"}]},
 "mark": {"type": "text", "font": "Liberation Sans", "fontSize": 36, "align": "left", "baseline": "alphabetic", "color": "black"},
 "encoding": {
  "x": {"field": "p", "type": "quantitative", "scale": {"domain": [-26.55, 280.33], "reverse": true, "nice": false, "zero": false}, "axis": null},
  "y": {"field": "y", "type": "quantitative", "scale": {"domain": [0, 1156], "nice": false, "zero": false}, "axis": null},
  "text": {"field": "t"}}},
{"data": {"values": [{"p": 272.2, "y": 1054, "t": "Ω"}, {"p": 254.4, "y": 1054, "t": "/2π="}]},
 "mark": {"type": "text", "font": "Liberation Serif", "fontSize": 64, "align": "left", "baseline": "alphabetic", "color": "black"},
 "encoding": {
  "x": {"field": "p", "type": "quantitative", "scale": {"domain": [-26.55, 280.33], "reverse": true, "nice": false, "zero": false}, "axis": null},
  "y": {"field": "y", "type": "quantitative", "scale": {"domain": [0, 1156], "nice": false, "zero": false}, "axis": null},
  "text": {"field": "t"}}},
{"data": {"values": [{"p": 258.2, "y": 1039, "t": "r"}]},
 "mark": {"type": "text", "font": "Liberation Serif", "fontSize": 41, "align": "left", "baseline": "alphabetic", "color": "black"},
 "encoding": {
  "x": {"field": "p", "type": "quantitative", "scale": {"domain": [-26.55, 280.33], "reverse": true, "nice": false, "zero": false}, "axis": null},
  "y": {"field": "y", "type": "quantitative", "scale": {"domain": [0, 1156], "nice": false, "zero": false}, "axis": null},
  "text": {"field": "t"}}},
{"data": {"values": [{"p": 116.4, "y": 1132, "t": "-alanine"}]},
 "mark": {"type": "text", "font": "Liberation Sans", "fontSize": 31, "align": "left", "baseline": "alphabetic", "color": "black"},
 "encoding": {
  "x": {"field": "p", "type": "quantitative", "scale": {"domain": [-26.55, 280.33], "reverse": true, "nice": false, "zero": false}, "axis": null},
  "y": {"field": "y", "type": "quantitative", "scale": {"domain": [0, 1156], "nice": false, "zero": false}, "axis": null},
  "text": {"field": "t"}}},
{"data": {"values": [{"p": 116.4, "y": 1132, "t": "L"}]},
 "mark": {"type": "text", "font": "Liberation Sans", "fontSize": 23, "align": "right", "baseline": "alphabetic", "color": "black"},
 "encoding": {
  "x": {"field": "p", "type": "quantitative", "scale": {"domain": [-26.55, 280.33], "reverse": true, "nice": false, "zero": false}, "axis": null},
  "y": {"field": "y", "type": "quantitative", "scale": {"domain": [0, 1156], "nice": false, "zero": false}, "axis": null},
  "text": {"field": "t"}}},
{"data": {"values": [{"p": 143.9, "y": 1079, "t": "C CPMAS (at 75 MHz)"}]},
 "mark": {"type": "text", "font": "Liberation Sans", "fontSize": 28.5, "align": "left", "baseline": "alphabetic", "color": "black"},
 "encoding": {
  "x": {"field": "p", "type": "quantitative", "scale": {"domain": [-26.55, 280.33], "reverse": true, "nice": false, "zero": false}, "axis": null},
  "y": {"field": "y", "type": "quantitative", "scale": {"domain": [0, 1156], "nice": false, "zero": false}, "axis": null},
  "text": {"field": "t"}}},
{"data": {"values": [{"p": 143.9, "y": 1089, "t": "13"}]},
 "mark": {"type": "text", "font": "Liberation Sans", "fontSize": 16, "align": "right", "baseline": "alphabetic", "color": "black"},
 "encoding": {
  "x": {"field": "p", "type": "quantitative", "scale": {"domain": [-26.55, 280.33], "reverse": true, "nice": false, "zero": false}, "axis": null},
  "y": {"field": "y", "type": "quantitative", "scale": {"domain": [0, 1156], "nice": false, "zero": false}, "axis": null},
  "text": {"field": "t"}}},
{"data": {"values": [{"p": 140.9, "y": 639, "t": "Chemical Shift Anisotropy CSA"}]},
 "mark": {"type": "text", "font": "Liberation Serif", "fontSize": 64, "align": "center", "baseline": "alphabetic", "color": "#F4F4FF", "opacity": 0.85},
 "encoding": {
  "x": {"field": "p", "type": "quantitative", "scale": {"domain": [-26.55, 280.33], "reverse": true, "nice": false, "zero": false}, "axis": null},
  "y": {"field": "y", "type": "quantitative", "scale": {"domain": [0, 1156], "nice": false, "zero": false}, "axis": null},
  "text": {"field": "t"}}}
],
"resolve": {"scale": {"y": "independent", "angle": "independent"}, "axis": {"x": "independent", "y": "independent"}}
}
